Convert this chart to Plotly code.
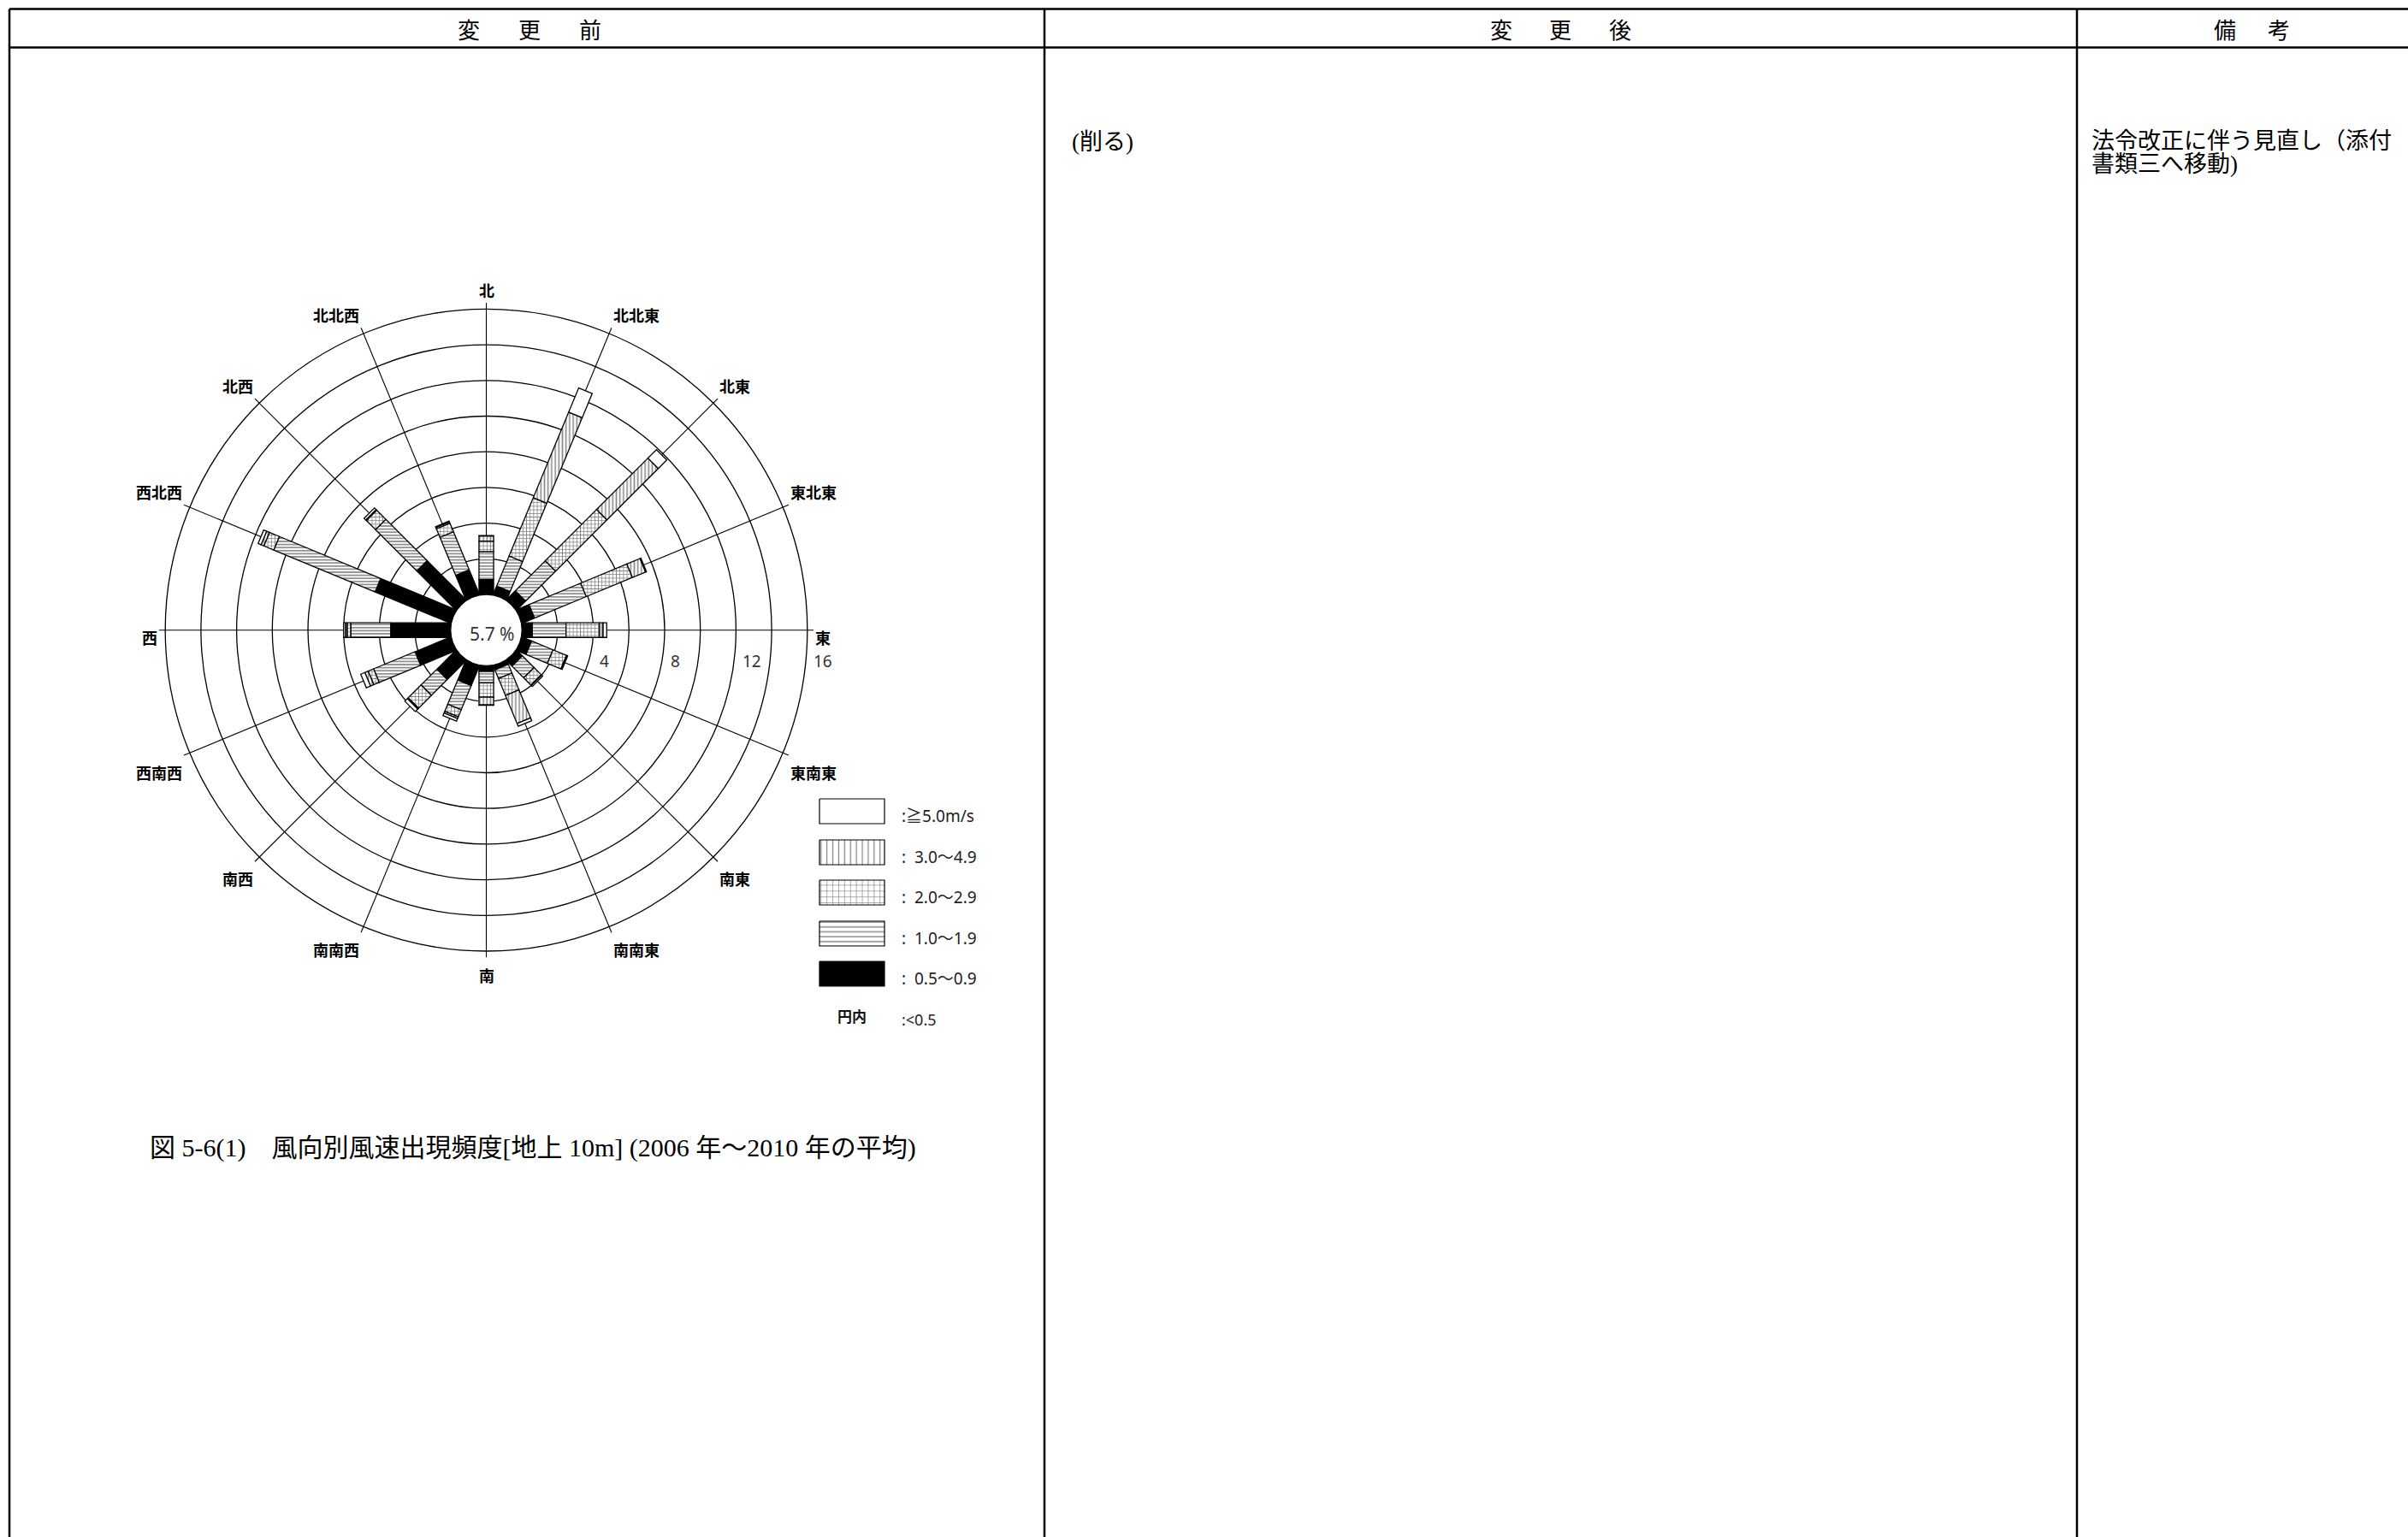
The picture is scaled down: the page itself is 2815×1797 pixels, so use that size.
import numpy as np
import plotly.graph_objects as go

W, H = 2815, 1797

# ---------------- data ----------------
directions = ["北", "北北東", "北東", "東北東", "東", "東南東", "南東", "南南東",
              "南", "南南西", "南西", "西南西", "西", "西北西", "北西", "北北西"]
dir_angles = [i * 22.5 for i in range(16)]

# frequency (%) by wind-speed class, for each direction above
v_05_09 = [0.83, 0.51, 0.71, 0.76, 0.58, 0.58, 0.45, 0.25, 0.32, 1.20, 1.51, 2.16, 3.36, 4.58, 3.10, 1.50]
v_10_19 = [1.57, 1.82, 2.38, 3.14, 1.89, 1.30, 0.93, 0.52, 0.64, 1.47, 1.25, 2.51, 2.24, 6.15, 3.28, 2.30]
v_20_29 = [0.59, 3.54, 4.07, 2.80, 1.88, 0.82, 0.57, 1.03, 0.80, 0.43, 1.02, 0.33, 0.20, 0.60, 0.72, 0.52]
v_30_49 = [0.29, 5.19, 4.07, 0.80, 0.20, 0.02, 0.03, 1.70, 0.44, 0.10, 0.07, 0.20, 0.10, 0.17, 0.05, 0.08]
v_50_up = [0.02, 1.47, 0.67, 0.05, 0.20, 0.05, 0.08, 0.17, 0.02, 0.16, 0.20, 0.25, 0.10, 0.18, 0.13, 0.05]
calm_pct = 5.7

class_texts = [":  0.5〜0.9", ":  1.0〜1.9", ":  2.0〜2.9", ":  3.0〜4.9", ":≧5.0m/s"]
ring_values = [2, 4, 6, 8, 10, 12, 14, 16]
ring_label_values = [4, 8, 12, 16]

caption = "図 5-6(1)　風向別風速出現頻度[地上 10m] (2006 年〜2010 年の平均)"

# ---------------- geometry / style ----------------
U = 20.85            # px per 1 %
CX, CY = 568.5, 736.7
R0 = 2.0             # calm circle radius in % units
HALF = 0.41          # half bar width in % units
SPOKE = 18.35
EDGE = "black"

def ux(px):
    return (px - CX) / U

def uy(py):
    return (CY - py) / U

def px_paper(px):
    return px / W

def py_paper(py):
    return 1 - py / H

bar_styles = [
    dict(fillcolor="black"),
    dict(fillcolor="white", fillpattern=dict(shape="-", size=3.6, solidity=0.5, fgcolor="#222", bgcolor="white")),
    dict(fillcolor="white", fillpattern=dict(shape="+", size=4.2, solidity=0.36, fgcolor="#111", bgcolor="white")),
    dict(fillcolor="white", fillpattern=dict(shape="|", size=4.2, solidity=0.38, fgcolor="#111", bgcolor="white")),
    dict(fillcolor="white"),
]
legend_styles = [
    dict(fillcolor="black"),
    dict(fillcolor="white", fillpattern=dict(shape="-", size=5.7, solidity=0.26, fgcolor="#111", bgcolor="white")),
    dict(fillcolor="white", fillpattern=dict(shape="+", size=6.9, solidity=0.19, fgcolor="#111", bgcolor="white")),
    dict(fillcolor="white", fillpattern=dict(shape="|", size=6.9, solidity=0.19, fgcolor="#111", bgcolor="white")),
    dict(fillcolor="white"),
]

fig = go.Figure()

classes = [v_05_09, v_10_19, v_20_29, v_30_49, v_50_up]
cum = np.zeros(16)
for k, vals in enumerate(classes):
    xs, ys = [], []
    vals = np.array(vals)
    for i, ang in enumerate(dir_angles):
        a = np.deg2rad(ang)
        u = np.array([np.sin(a), np.cos(a)])
        n = np.array([np.cos(a), -np.sin(a)])
        p0 = R0 + cum[i] - (0.3 if k == 0 else 0.0)
        p1 = R0 + cum[i] + vals[i]
        if vals[i] <= 0:
            continue
        pts = [p0 * u + HALF * n, p1 * u + HALF * n, p1 * u - HALF * n, p0 * u - HALF * n, p0 * u + HALF * n]
        for p in pts:
            xs.append(p[0]); ys.append(p[1])
        xs.append(None); ys.append(None)
    cum = cum + vals
    fig.add_trace(go.Scatter(x=xs, y=ys, mode="lines", fill="toself",
                             line=dict(color=EDGE, width=1.3), hoverinfo="skip",
                             showlegend=False, **bar_styles[k]))

# ---------------- legend (custom) ----------------
leg_x0, leg_x1 = 958, 1034
leg_tops = [1124, 1077, 1029, 982, 934]   # for class 0..4
leg_h = 29
annotations = []
for k in range(5):
    t = leg_tops[k]
    xs = [ux(leg_x0), ux(leg_x1), ux(leg_x1), ux(leg_x0), ux(leg_x0)]
    ys = [uy(t), uy(t), uy(t + leg_h), uy(t + leg_h), uy(t)]
    fig.add_trace(go.Scatter(x=xs, y=ys, mode="lines", fill="toself",
                             line=dict(color=EDGE, width=1.2), hoverinfo="skip",
                             showlegend=False, **legend_styles[k]))
    annotations.append(dict(x=ux(1052), y=uy(t + 20), xref="x", yref="y", text=class_texts[k],
                            showarrow=False, xanchor="left", yanchor="middle",
                            font=dict(family="Noto Sans, Noto Sans CJK JP", size=19, color="#222")))
annotations.append(dict(x=ux(996), y=uy(1187), xref="x", yref="y", text="<b>円内</b>",
                        showarrow=False, xanchor="center", yanchor="middle",
                        font=dict(family="Noto Sans CJK JP", size=17, color="#111")))
annotations.append(dict(x=ux(1052), y=uy(1192), xref="x", yref="y", text=":<0.5",
                        showarrow=False, xanchor="left", yanchor="middle",
                        font=dict(family="Noto Sans, Noto Sans CJK JP", size=18, color="#222")))

# ---------------- polar grid ----------------
shapes = []
for v in ring_values:
    r = R0 + v
    shapes.append(dict(type="circle", xref="x", yref="y", x0=-r, y0=-r, x1=r, y1=r,
                       line=dict(color="black", width=1.3), layer="below"))
for ang in dir_angles:
    a = np.deg2rad(ang)
    shapes.append(dict(type="line", xref="x", yref="y",
                       x0=R0 * np.sin(a), y0=R0 * np.cos(a),
                       x1=SPOKE * np.sin(a), y1=SPOKE * np.cos(a),
                       line=dict(color="black", width=1.1), layer="below"))
shapes.append(dict(type="circle", xref="x", yref="y", x0=-R0, y0=-R0, x1=R0, y1=R0,
                   fillcolor="white", line=dict(color="black", width=1.3), layer="above"))

annotations.append(dict(x=0.35, y=-0.2, xref="x", yref="y", text=f"{calm_pct} %",
                        showarrow=False, font=dict(family="Noto Sans", size=21, color="#333")))
for v in ring_label_values:
    annotations.append(dict(x=R0 + v + 0.25, y=-1.73, xref="x", yref="y", text=str(v),
                            showarrow=False, xanchor="left", yanchor="middle",
                            font=dict(family="Noto Sans", size=19, color="#333")))
for name, ang in zip(directions, dir_angles):
    a = np.deg2rad(ang)
    s, c = np.sin(a), np.cos(a)
    ex, ey = SPOKE * s, SPOKE * c
    if s > 0.01:
        xa = "left"
    elif s < -0.01:
        xa = "right"
    else:
        xa = "center"
    if c > 0.01:
        ya, ey = "bottom", ey + 0.0
    elif c < -0.01:
        ya, ey = "top", ey - 0.25
    else:
        ya, ey = "middle", ey - 0.4
    annotations.append(dict(x=ex, y=ey, xref="x", yref="y",
                            text=f"<b>{name}</b>", showarrow=False,
                            xanchor=xa, yanchor=ya,
                            font=dict(family="Noto Sans CJK JP", size=18, color="black")))

# ---------------- page table ----------------
TL = 2.5
top_y, head_y = 10.5, 55.5
col_x = [11, 1221, 2428]
shapes.append(dict(type="line", xref="paper", yref="paper", x0=px_paper(col_x[0]), x1=1.01,
                   y0=py_paper(top_y), y1=py_paper(top_y), line=dict(color="black", width=TL)))
shapes.append(dict(type="line", xref="paper", yref="paper", x0=px_paper(col_x[0]), x1=1.01,
                   y0=py_paper(head_y), y1=py_paper(head_y), line=dict(color="black", width=TL)))
for cx in col_x:
    shapes.append(dict(type="line", xref="paper", yref="paper", x0=px_paper(cx), x1=px_paper(cx),
                       y0=py_paper(top_y), y1=-0.01, line=dict(color="black", width=TL)))

body_font = "Liberation Serif, Noto Sans CJK JP"

def spaced(chars, centers, y):
    for ch, cx in zip(chars, centers):
        annotations.append(dict(x=px_paper(cx), y=py_paper(y), xref="paper", yref="paper",
                                text=ch, showarrow=False, xanchor="center", yanchor="middle",
                                font=dict(family="Noto Sans CJK JP", size=26, color="black")))

spaced("変更前", [548, 619, 690], 33)
spaced("変更後", [1755, 1824, 1894], 33)
spaced("備考", [2601, 2664], 33)

annotations.append(dict(x=px_paper(1251), y=py_paper(166), xref="paper", yref="paper",
                        text="(削る)", showarrow=False, xanchor="left", yanchor="middle",
                        font=dict(family=body_font, size=27, color="black")))
annotations.append(dict(x=px_paper(2443), y=py_paper(165), xref="paper", yref="paper",
                        text="法令改正に伴う見直し（添付", showarrow=False, xanchor="left", yanchor="middle",
                        font=dict(family=body_font, size=27, color="black")))
annotations.append(dict(x=px_paper(2443), y=py_paper(192), xref="paper", yref="paper",
                        text="書類三へ移動)", showarrow=False, xanchor="left", yanchor="middle",
                        font=dict(family=body_font, size=27, color="black")))
annotations.append(dict(x=px_paper(173), y=py_paper(1342), xref="paper", yref="paper",
                        text=caption, showarrow=False, xanchor="left", yanchor="middle",
                        font=dict(family=body_font, size=30, color="black")))

X0, X1, Y0, Y1 = 80, 1200, 300, 1290
fig.update_layout(
    width=W, height=H, margin=dict(l=0, r=0, t=0, b=0),
    paper_bgcolor="white", plot_bgcolor="white",
    xaxis=dict(range=[ux(X0), ux(X1)], domain=[px_paper(X0), px_paper(X1)], visible=False, fixedrange=True),
    yaxis=dict(range=[uy(Y1), uy(Y0)], domain=[py_paper(Y1), py_paper(Y0)], visible=False, fixedrange=True),
    shapes=shapes, annotations=annotations, showlegend=False,
)

fig.write_html("out.html", config=dict(displayModeBar=False),
               post_script="document.body.style.margin='0px';document.documentElement.style.overflow='hidden';")
